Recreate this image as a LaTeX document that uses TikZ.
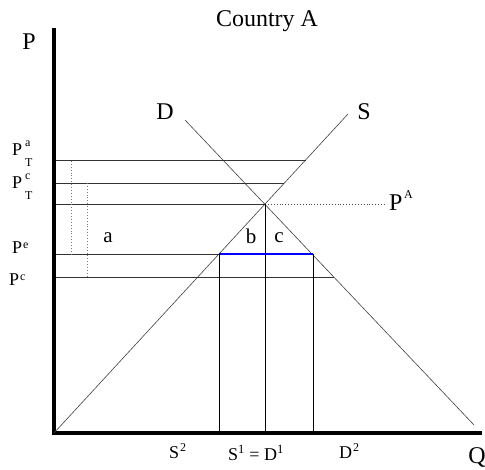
\documentclass[tikz,border=0pt]{standalone}
\usepackage{fontspec}
\setmainfont{Liberation Serif}
\begin{document}
\begin{tikzpicture}[x=1pt,y=-1pt,
  axis/.style={line width=4pt},
  curve/.style={line width=0.6pt,black!75},
  hline/.style={line width=0.9pt,black!80},
  vline/.style={line width=0.9pt,black},
  gdot/.style={line width=0.9pt,green!80!black,dotted},
  lbl/.style={font=\fontsize{24}{26}\selectfont,inner sep=0pt},
  mid/.style={font=\fontsize{18}{20}\selectfont,inner sep=0pt},
  tiny/.style={font=\fontsize{12}{13}\selectfont,inner sep=0pt},
  small/.style={font=\fontsize{21}{23}\selectfont,inner sep=0pt}]
\useasboundingbox (0,0) rectangle (485,470);
% axes
\coordinate (O) at (54,433);
\coordinate (Ytop) at (54,28);
\coordinate (Xend) at (482,433);
\draw[axis] (Ytop) -- (O) -- (Xend);
% curves
\coordinate (Sbot) at (54,433);
\coordinate (Stop) at (348,114);
\coordinate (Dtop) at (185,120);
\coordinate (Dbot) at (474,425);
\draw[curve] (Sbot) -- (Stop);
\draw[curve] (Dtop) -- (Dbot);
% horizontal price lines
\coordinate (Ta0) at (56,160); \coordinate (Ta1) at (306,160);
\coordinate (Tc0) at (56,183); \coordinate (Tc1) at (284,183);
\coordinate (A0) at (56,204); \coordinate (E) at (265,204); \coordinate (A2) at (385,204);
\coordinate (Pe0) at (56,254); \coordinate (S2) at (219,254); \coordinate (D2) at (313,254);
\coordinate (Pc0) at (56,277); \coordinate (Pc1) at (334,277);
\draw[hline] (Ta0) -- (Ta1);
\draw[hline] (Tc0) -- (Tc1);
\draw[hline] (A0) -- (E);
\draw[line width=0.9pt,dotted,black!70] (E) -- (A2);
\draw[hline] (Pe0) -- (S2);
\draw[hline] (Pc0) -- (Pc1);
\draw[line width=2.2pt,blue] (S2) -- (D2);
% verticals
\coordinate (S2b) at (219,431); \coordinate (Eb) at (265,431); \coordinate (D2b) at (313,431);
\draw[vline] (S2) -- (S2b);
\draw[vline] (E) -- (Eb);
\draw[vline] (D2) -- (D2b);
% green dotted
\coordinate (G1t) at (71,161); \coordinate (G1b) at (71,254);
\coordinate (G2t) at (87,183); \coordinate (G2b) at (87,277);
\draw[gdot] (G1t) -- (G1b);
\draw[gdot] (G2t) -- (G2b);
% labels
\node[lbl] (title) at (267,21) {Country A};
\node[lbl] (P) at (29,42) {P};
\node[lbl] (D) at (165,112) {D};
\node[lbl] (S) at (364,112) {S};
\node[lbl,anchor=west] (PA) at (389,203) {P};
\node[tiny,anchor=west] (PAs) at (404,195) {A};
% P_T^a
\node[mid,anchor=west] (PTa) at (12,150) {P};
\node[tiny,anchor=west] (PTaa) at (25,144) {a};
\node[tiny,anchor=west] (PTaT) at (25,163) {T};
% P_T^c
\node[mid,anchor=west] (PTc) at (12,183) {P};
\node[tiny,anchor=west] (PTcc) at (25,177) {c};
\node[tiny,anchor=west] (PTcT) at (25,196) {T};
% P^e, P^c
\node[mid,anchor=west] (Pe) at (12,248) {P};
\node[tiny,anchor=west] (Pes) at (23,246) {e};
\node[mid,anchor=west] (Pc) at (9,280) {P};
\node[tiny,anchor=west] (Pcs) at (20,278) {c};
\node[small] (la) at (108,238) {a};
\node[small] (lb) at (251,236) {b};
\node[small] (lc) at (279,238) {c};
\node[mid,anchor=west] (xS2) at (169,453) {S};
\node[tiny,anchor=west] (xS2s) at (180,448) {2};
\node[mid] (xE) at (256,453) {S\textsuperscript{1} = D\textsuperscript{1}};
\node[mid,anchor=west] (xD2) at (339,453) {D};
\node[tiny,anchor=west] (xD2s) at (353,448) {2};
\node[lbl] (Q) at (477,458) {Q};
\end{tikzpicture}
\end{document}
